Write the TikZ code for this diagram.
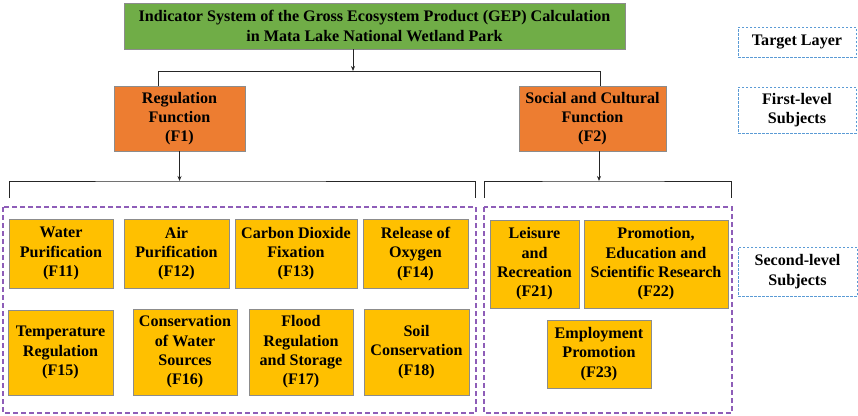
\documentclass[tikz,border=0pt]{standalone}
\usepackage{fontspec}
\setmainfont{Liberation Serif}
\usetikzlibrary{arrows.meta}
\definecolor{gboxc}{HTML}{70AD47}
\definecolor{oboxc}{HTML}{ED7D31}
\definecolor{yboxc}{HTML}{FFC000}
\definecolor{edgec}{HTML}{8C8C8C}
\definecolor{purc}{HTML}{8E5DB8}
\definecolor{bluc}{HTML}{5B9BD5}
\tikzset{
  base/.style={draw=edgec, line width=0.8pt, inner sep=0pt, align=center,
    font=\fontsize{16.1}{19.3}\selectfont\bfseries},
  gbox/.style={base, fill=gboxc},
  obox/.style={base, fill=oboxc},
  ybox/.style={base, fill=yboxc},
  lbl/.style={base, draw=bluc, dashed, dash pattern=on 2.5pt off 1.5pt, fill=white},
  grp/.style={draw=purc, line width=1.1pt, dash pattern=on 5pt off 3pt},
  conn/.style={draw=black!85, line width=1pt},
  arr/.style={conn, -{Stealth[length=5pt,width=4pt]}}
}
\begin{document}
\begin{tikzpicture}[x=1pt,y=-1pt]
\useasboundingbox (0,0) rectangle (858,415);
% group frames
\draw[grp] (3,207) rectangle (476,413);
\draw[grp] (484,207) rectangle (732,413);
% title
\node[gbox, minimum width=501pt, minimum height=46pt] (title) at (374.5,26)
  {Indicator System of the Gross Ecosystem Product (GEP) Calculation\\in Mata Lake National Wetland Park};
% first level
\node[obox, minimum width=131pt, minimum height=65pt] (reg) at (179.5,118.5) {Regulation\\Function\\(F1)};
\node[obox, minimum width=147pt, minimum height=65pt] (soc) at (592.5,118.5) {Social and Cultural\\Function\\(F2)};
% second level, regulation
\node[ybox, minimum width=104pt, minimum height=69pt] (f11) at (61,253.5) {Water\\Purification\\(F11)};
\node[ybox, minimum width=105pt, minimum height=69pt] (f12) at (176.5,253.5) {Air\\Purification\\(F12)};
\node[ybox, minimum width=122pt, minimum height=69pt] (f13) at (296,253.5) {Carbon Dioxide\\Fixation\\(F13)};
\node[ybox, minimum width=105pt, minimum height=69pt] (f14) at (415.5,254) {Release of\\Oxygen\\(F14)};
\node[ybox, minimum width=105pt, minimum height=85pt] (f15) at (60.5,352.5) {Temperature\\Regulation\\(F15)};
\node[ybox, minimum width=104pt, minimum height=86pt] (f16) at (185,352) {Conservation\\of Water\\Sources\\(F16)};
\node[ybox, minimum width=104pt, minimum height=86pt] (f17) at (301,352) {Flood\\Regulation\\and Storage\\(F17)};
\node[ybox, minimum width=105pt, minimum height=86pt] (f18) at (416.5,352) {Soil\\Conservation\\(F18)};
% second level, social
\node[ybox, minimum width=89pt, minimum height=88pt] (f21) at (534.5,264) {Leisure\\and\\Recreation\\(F21)};
\node[ybox, minimum width=144pt, minimum height=88pt] (f22) at (656,264) {Promotion,\\Education and\\Scientific Research\\(F22)};
\node[ybox, minimum width=104pt, minimum height=68pt] (f23) at (599,354) {Employment\\Promotion\\(F23)};
% labels
\node[lbl, minimum width=118pt, minimum height=30pt] (lt) at (797,42) {Target Layer};
\node[lbl, minimum width=118pt, minimum height=46pt] (lf) at (797,110) {First-level\\Subjects};
\node[lbl, minimum width=119pt, minimum height=49pt] (ls) at (797.5,271.5) {Second-level\\Subjects};
% connectors
\coordinate (t1) at (353,71);
\coordinate (bl) at (158,71);
\coordinate (br) at (600,71);
\draw[arr] (title.south -| t1) -- (t1);
\draw[conn] (reg.north -| bl) -- (bl) -- (br) -- (soc.north -| br);
\coordinate (r1) at (179.5,181);
\coordinate (r1l) at (9,198);
\coordinate (r1r) at (475,198);
\draw[arr] (reg.south -| r1) -- (r1);
\draw[conn] (r1l) |- (r1) -| (r1r);
\coordinate (s1) at (599,181);
\coordinate (s1l) at (484,198);
\coordinate (s1r) at (731,198);
\draw[arr] (soc.south -| s1) -- (s1);
\draw[conn] (s1l) |- (s1) -| (s1r);
\end{tikzpicture}
\end{document}
